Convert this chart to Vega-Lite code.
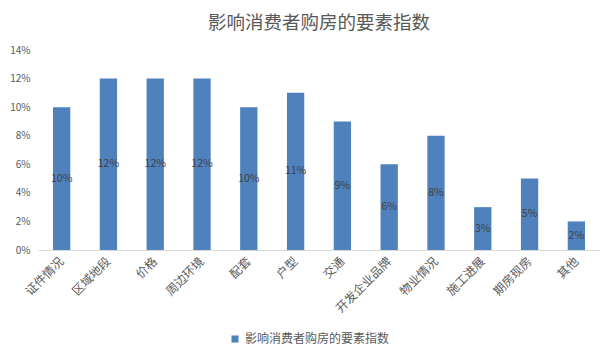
{
  "$schema": "https://vega.github.io/schema/vega-lite/v6.json",
  "autosize": "none",
  "width": 562,
  "height": 200,
  "padding": {"left": 38, "top": 50, "right": 16, "bottom": 112},
  "background": "white",
  "title": {
    "text": "影响消费者购房的要素指数",
    "font": "Noto Sans CJK SC",
    "fontSize": 18.5,
    "fontWeight": "normal",
    "color": "#595959",
    "offset": 13,
    "anchor": "middle"
  },
  "config": {
    "view": {"stroke": null},
    "font": "Noto Sans CJK SC"
  },
  "data": {
    "values": [
      {"factor": "证件情况", "value": 0.10},
      {"factor": "区域地段", "value": 0.12},
      {"factor": "价格", "value": 0.12},
      {"factor": "周边环境", "value": 0.12},
      {"factor": "配套", "value": 0.10},
      {"factor": "户型", "value": 0.11},
      {"factor": "交通", "value": 0.09},
      {"factor": "开发企业品牌", "value": 0.06},
      {"factor": "物业情况", "value": 0.08},
      {"factor": "施工进展", "value": 0.03},
      {"factor": "期房现房", "value": 0.05},
      {"factor": "其他", "value": 0.02}
    ]
  },
  "encoding": {
    "x": {
      "field": "factor",
      "type": "nominal",
      "sort": null,
      "scale": {"paddingInner": 0.63, "paddingOuter": 0.32},
      "axis": {
        "title": null,
        "labelAngle": -45,
        "labelAlign": "right",
        "labelBaseline": "middle",
        "labelFontSize": 12,
        "labelColor": "#595959",
        "labelPadding": 9,
        "ticks": false,
        "domainColor": "#d9d9d9",
        "labelFont": "Noto Sans CJK SC"
      }
    }
  },
  "layer": [
    {
      "mark": {"type": "bar"},
      "encoding": {
        "y": {
          "field": "value",
          "type": "quantitative",
          "scale": {"domain": [0, 0.14]},
          "axis": {
            "title": null,
            "format": ".0%",
            "values": [0, 0.02, 0.04, 0.06, 0.08, 0.1, 0.12, 0.14],
            "grid": false,
            "domain": false,
            "ticks": false,
            "labelFontSize": 10,
            "labelColor": "#595959",
            "labelPadding": 8,
            "labelFont": "Noto Sans CJK SC"
          }
        },
        "color": {
          "datum": "影响消费者购房的要素指数",
          "type": "nominal",
          "scale": {"range": ["#4f81bd"]},
          "legend": {
            "title": null,
            "orient": "none",
            "legendX": 191,
            "legendY": 283,
            "symbolType": "square",
            "symbolSize": 50,
            "labelFontSize": 12,
            "labelColor": "#595959",
            "labelFont": "Noto Sans CJK SC"
          }
        }
      }
    },
    {
      "mark": {"type": "text", "fontSize": 10.5, "color": "#404040", "font": "Noto Sans CJK SC", "baseline": "middle"},
      "encoding": {
        "y": {
          "field": "value",
          "type": "quantitative",
          "scale": {"domain": [0, 0.28]},
          "axis": null
        },
        "text": {"field": "value", "type": "quantitative", "format": ".0%"}
      }
    }
  ],
  "resolve": {"scale": {"y": "independent"}}
}
